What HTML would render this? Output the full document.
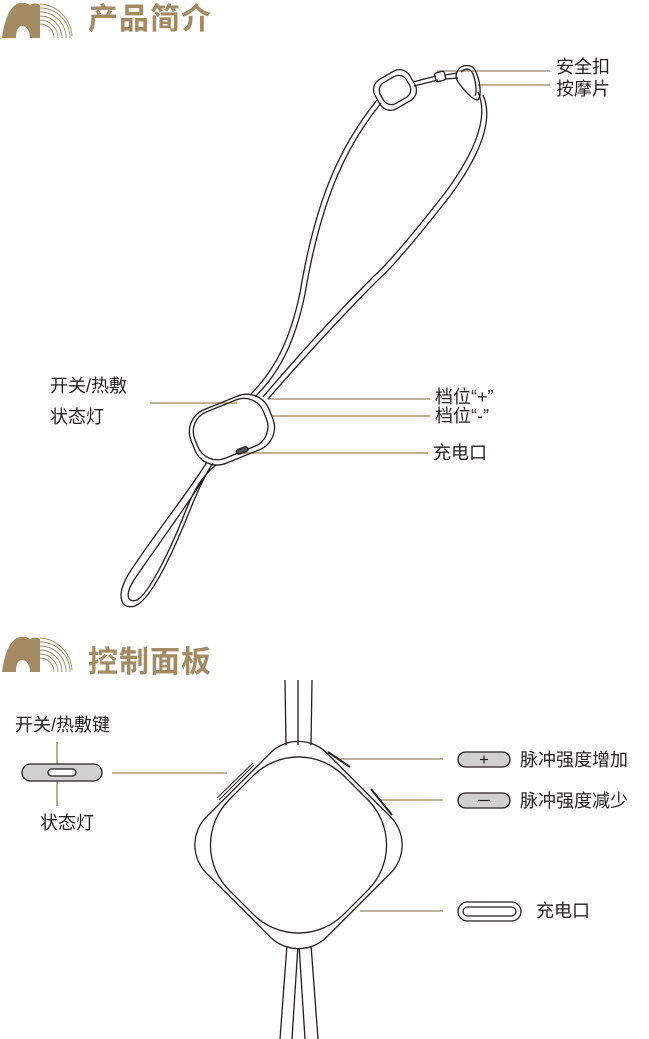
<!DOCTYPE html>
<html><head><meta charset="utf-8">
<style>
html,body{margin:0;padding:0;background:#fff;}
body{width:649px;height:1039px;position:relative;overflow:hidden;font-family:"Liberation Sans","Noto Sans CJK SC",sans-serif;}
.t{position:absolute;font-size:18px;color:#231f20;white-space:nowrap;line-height:1;}
.h{position:absolute;font-size:30px;font-weight:bold;color:#a48a63;letter-spacing:1px;line-height:1;}
svg{position:absolute;left:0;top:0;}
</style></head><body>
<svg width="649" height="1039" viewBox="0 0 649 1039" fill="none" stroke="#231f20" stroke-width="1.3">
<defs>
<g id="logo">
<path d="M2 38 C4 22 8 12 14 6 C18 2 26 2 30 5 C34 3 38 3 40 5 L40 38 L30 38 C30 30 26 26 22 26 C18 26 16 30 16 38 Z" fill="#a48a63" stroke="none"/>
<path d="M40 8 A30 30 0 0 1 70 38 M40 12 A26 26 0 0 1 66 38 M40 16 A22 22 0 0 1 62 38 M40 20 A18 18 0 0 1 58 38 M40 24 A14 14 0 0 1 54 38 M40 4 A34 34 0 0 1 72 36" stroke="#a48a63" stroke-width="0.9"/>
</g>
</defs>
<use href="#logo"/>
<use href="#logo" y="634"/>
<g stroke="#a89878" stroke-width="1.6">
<line x1="437" y1="71" x2="550" y2="71"/>
<line x1="478" y1="85" x2="550" y2="85"/>
<line x1="150" y1="403" x2="237" y2="403"/>
<line x1="268" y1="399" x2="430" y2="399"/>
<line x1="272" y1="416" x2="430" y2="416"/>
<line x1="240" y1="453" x2="428" y2="453"/>
<line x1="57" y1="742" x2="57" y2="768"/>
<line x1="57" y1="776" x2="57" y2="806"/>
<line x1="112" y1="773" x2="227" y2="773"/>
<line x1="338" y1="759" x2="443" y2="759"/>
<line x1="380" y1="800" x2="443" y2="800"/>
<line x1="360" y1="911" x2="443" y2="911"/>
</g>
<path d="M377 100 C345 140 317 190 300 293 C290 340 275 370 250 395"/>
<path d="M381 103 C349 143 322 193 305 294 C295 342 280 372 255 397"/>
<path d="M478 92 C486 110 484 140 445 193 C420 225 390 262 373 277 C330 320 290 365 263 397"/>
<path d="M483 95 C491 113 489 143 450 196 C425 228 395 265 378 280 C335 323 295 368 268 399"/>
<g transform="rotate(-30 395 90)">
<rect x="375" y="73" width="40" height="34" rx="12"/>
<rect x="380" y="78" width="30" height="24" rx="9"/>
</g>
<path d="M413 82 L436 76 M414 86 L438 80"/>
<rect x="435" y="72" width="10" height="9" rx="2" transform="rotate(-15 440 76)"/>
<path d="M445 75 L457 73 M446 79 L458 78"/>
<path d="M458 70 C462 64 472 64 475 70 C480 80 482 95 478 100 C472 100 464 90 458 82 C455 77 456 73 458 70Z"/>
<path d="M461 72 C465 68 471 68 473 74 C476 82 477 92 475 96"/>
<g transform="rotate(-22 231 430)">
<rect x="190" y="401" width="84" height="58" rx="24"/>
<rect x="194" y="404" width="74" height="50" rx="21"/>
</g>
<rect x="236" y="448" width="12" height="5" rx="2.5" fill="#555" transform="rotate(-20 242 450)"/>
<path d="M207 462 C190 490 150 540 128 575 C115 598 122 610 135 606 C150 600 170 560 190 510 C198 490 205 475 213 463"/>
<path d="M212 464 C196 494 158 544 134 580 C124 596 128 603 137 600 C148 594 168 556 186 510 C194 490 202 476 216 465"/>
<path d="M287 945 L280 1039 M298 945 L292 1039 M299 945 L305 1039 M311 945 L318 1039"/>
<rect x="213.5" y="760" width="170" height="170" rx="40" transform="rotate(45 298.5 845)" fill="#fff"/>
<rect x="217.5" y="764" width="162" height="162" rx="64" transform="rotate(45 298.5 845)"/>
<path d="M217 798 L253 763 M219 800 L254 765" stroke-width="1"/>
<path d="M328 752 L350 767 M371 789 L392 815" stroke-width="2"/>
<path d="M285 680 L286 745 M298 680 L298 745 M312 680 L311 745"/>
<rect x="22" y="764" width="80" height="17" rx="8.5" fill="#d0d0d0"/>
<rect x="48" y="769" width="28" height="7" rx="3.5" fill="#fff"/>
<rect x="458" y="752" width="52" height="15" rx="7.5" fill="#d0d0d0"/>
<path d="M480 759.5 H488 M484 755.5 V763.5" stroke-width="1.2"/>
<rect x="458" y="793" width="52" height="15" rx="7.5" fill="#d0d0d0"/>
<path d="M478 800.5 H490" stroke-width="1.2"/>
<rect x="458" y="902" width="63" height="19" rx="9.5"/>
<rect x="463" y="907" width="53" height="9" rx="4.5"/>
</svg>
<div class="h" style="left:88px;top:5px;">产品简介</div>
<div class="h" style="left:88px;top:648px;">控制面板</div>
<div class="t" style="left:556px;top:58px;">安全扣</div>
<div class="t" style="left:556px;top:80px;">按摩片</div>
<div class="t" style="left:50px;top:377px;">开关/热敷</div>
<div class="t" style="left:50px;top:408px;">状态灯</div>
<div class="t" style="left:435px;top:388px;">档位“+”</div>
<div class="t" style="left:435px;top:407px;">档位“-”</div>
<div class="t" style="left:433px;top:444px;">充电口</div>
<div class="t" style="left:15px;top:716px;">开关/热敷键</div>
<div class="t" style="left:40px;top:814px;">状态灯</div>
<div class="t" style="left:520px;top:751px;">脉冲强度增加</div>
<div class="t" style="left:520px;top:792px;">脉冲强度减少</div>
<div class="t" style="left:536px;top:902px;">充电口</div>
</body></html>
